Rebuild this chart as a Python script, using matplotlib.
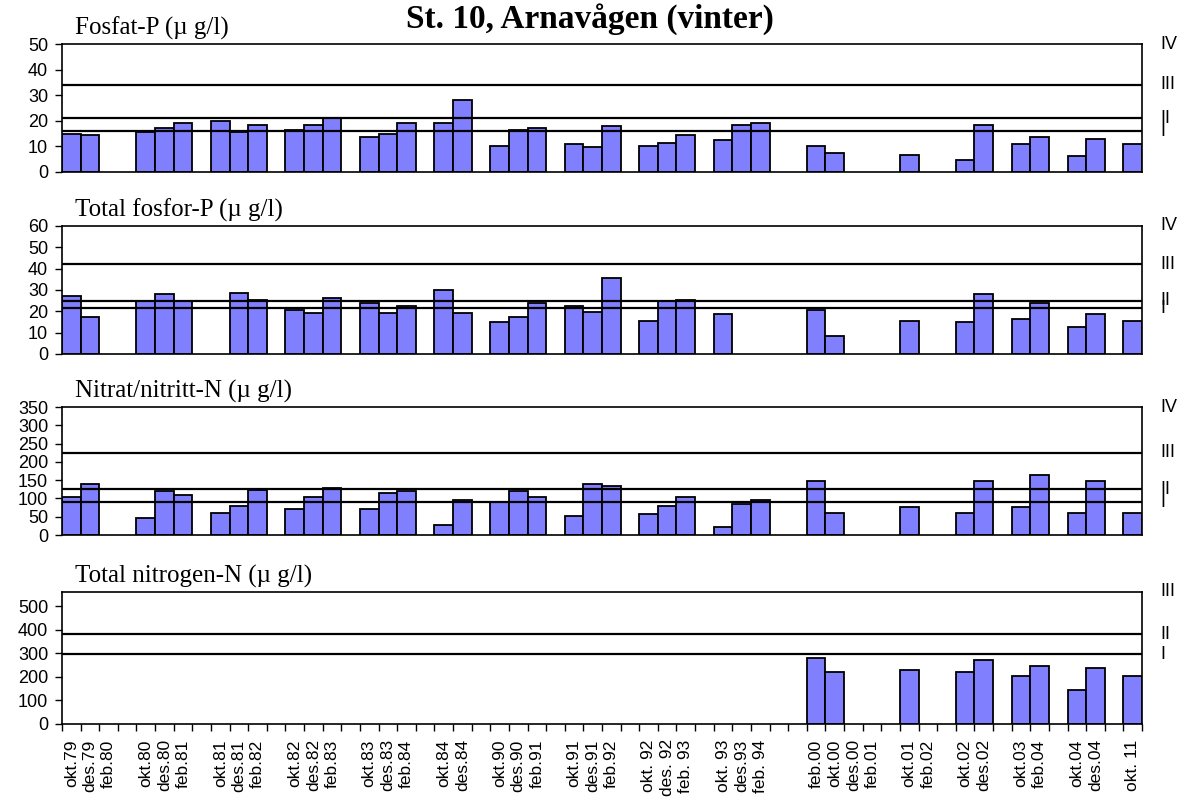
import numpy as np
import matplotlib
matplotlib.use("Agg")
import matplotlib.pyplot as plt
import matplotlib.transforms as mtransforms

# ---------------- data ----------------
categories = [
    "okt.79", "des.79", "feb.80", "",
    "okt.80", "des.80", "feb.81", "",
    "okt.81", "des.81", "feb.82", "",
    "okt.82", "des.82", "feb.83", "",
    "okt.83", "des.83", "feb.84", "",
    "okt.84", "des.84", "",
    "okt.90", "des.90", "feb.91", "",
    "okt.91", "des.91", "feb.92", "",
    "okt. 92", "des. 92", "feb. 93", "",
    "okt. 93", "des.93", "feb. 94", "", "",
    "feb.00", "okt.00", "des.00", "feb.01", "",
    "okt.01", "feb.02", "",
    "okt.02", "des.02", "",
    "okt.03", "feb.04", "",
    "okt.04", "des.04", "",
    "okt. 11",
]

N = None
fosfat_p = [
    15.0, 14.5, N, N,
    15.5, 17.2, 19.2, N,
    19.9, 15.5, 18.5, N,
    16.5, 18.3, 21.0, N,
    13.8, 15.0, 19.0, N,
    19.0, 28.0, N,
    10.2, 16.3, 17.0, N,
    11.0, 9.6, 17.8, N,
    10.2, 11.5, 14.3, N,
    12.4, 18.3, 19.2, N, N,
    10.2, 7.5, N, N, N,
    6.8, N, N,
    4.7, 18.3, N,
    11.0, 13.8, N,
    6.2, 13.0, N,
    11.0,
]

total_fosfor_p = [
    27.1, 17.4, N, N,
    24.8, 28.0, 24.8, N,
    N, 28.8, 25.5, N,
    20.4, 19.0, 26.3, N,
    23.8, 19.0, 22.3, N,
    29.8, 19.0, N,
    14.8, 17.4, 23.8, N,
    22.3, 19.8, 35.4, N,
    15.6, 24.8, 25.5, N,
    18.8, N, N, N, N,
    20.6, 8.4, N, N, N,
    15.6, N, N,
    14.8, 28.0, N,
    16.5, 23.7, N,
    12.5, 18.8, N,
    15.6,
]

nitrat_nitritt_n = [
    105, 139, N, N,
    47, 119, 110, N,
    61, 80, 124, N,
    71, 105, 129, N,
    71, 114, 119, N,
    27, 96, N,
    90, 119, 105, N,
    52, 139, 134, N,
    58, 80, 105, N,
    23, 86, 95, N, N,
    149, 61, N, N, N,
    77, N, N,
    61, 149, N,
    77, 163, N,
    61, 149, N,
    61,
]

total_nitrogen_n = [
    N, N, N, N,
    N, N, N, N,
    N, N, N, N,
    N, N, N, N,
    N, N, N, N,
    N, N, N,
    N, N, N, N,
    N, N, N, N,
    N, N, N, N,
    N, N, N, N, N,
    279, 220, N, N, N,
    230, N, N,
    220, 270, N,
    204, 245, N,
    144, 238, N,
    204,
]

panel_titles = ["Fosfat-P (\u00b5 g/l)", "Total fosfor-P (\u00b5 g/l)",
                "Nitrat/nitritt-N (\u00b5 g/l)", "Total nitrogen-N (\u00b5 g/l)"]
series = [fosfat_p, total_fosfor_p, nitrat_nitritt_n, total_nitrogen_n]
y_max = [50, 60, 350, 560]
y_ticks = [np.arange(0, 51, 10), np.arange(0, 61, 10),
           np.arange(0, 351, 50), np.arange(0, 501, 100)]
class_lines = [[16, 21, 34], [21.5, 25, 42], [90, 125, 225], [295, 380]]
class_labels = [
    [("IV", 50), ("III", 34), ("II", 21), ("I", 16)],
    [("IV", 60), ("III", 42), ("II", 25), ("I", 21.5)],
    [("IV", 350), ("III", 225), ("II", 125), ("I", 90)],
    [("III", 560), ("II", 380), ("I", 295)],
]
main_title = "St. 10, Arnavågen (vinter)"

# ---------------- layout ----------------
W, H = 1184, 809
fig = plt.figure(figsize=(W / 100, H / 100), dpi=100)
serif = "Liberation Serif"
sans = "Liberation Sans"

left_px, right_px = 62, 1142
panels_px = [(44, 172), (226, 354), (407, 535), (592, 724)]

x = np.arange(len(categories))
bar_color = "#8080FF"

for i, (top, bot) in enumerate(panels_px):
    ax = fig.add_axes([left_px / W, 1 - bot / H, (right_px - left_px) / W, (bot - top) / H])
    vals = np.array([np.nan if v is None else v for v in series[i]], dtype=float)
    mask = ~np.isnan(vals)
    ax.bar(x[mask], vals[mask], width=1.0, color=bar_color, edgecolor="black",
           linewidth=1.3, zorder=2)
    for yv in class_lines[i]:
        ax.axhline(yv, color="black", linewidth=1.6, zorder=3)
    ax.set_xlim(-0.5, len(categories) - 0.5)
    ax.set_ylim(0, y_max[i])
    ax.set_yticks(y_ticks[i])
    ax.set_yticklabels([str(t) for t in y_ticks[i]], fontfamily=sans, fontsize=13)
    ax.tick_params(axis="y", direction="out", length=5, width=1, pad=5)
    for s in ax.spines.values():
        s.set_color("black")
        s.set_linewidth(1.2)
        s.set_zorder(4)
    if i < 3:
        ax.set_xticks([])
    else:
        ax.set_xticks(np.arange(-0.5, len(categories), 1.0))
        ax.set_xticklabels([])
        ax.set_xticks(x, minor=True)
        ax.set_xticklabels(categories, minor=True, rotation=90, fontfamily=sans,
                           fontsize=12.5, va="top", ha="center")
        ax.tick_params(axis="x", which="major", direction="out", length=5, width=1)
        ax.tick_params(axis="x", which="minor", length=0, pad=11)
    ax.text(0.012, 1.0 + 4 / (bot - top), panel_titles[i], transform=ax.transAxes,
            ha="left", va="bottom", fontfamily=serif, fontsize=18)
    trans = mtransforms.blended_transform_factory(ax.transAxes, ax.transData)
    for lab, yv in class_labels[i]:
        ax.text((1160 - left_px) / (right_px - left_px), yv, lab, transform=trans,
                ha="left", va="center", fontfamily=sans, fontsize=13, clip_on=False)

fig.text(590 / W, 1 - 19 / H, main_title, ha="center", va="center",
         fontfamily=serif, fontweight="bold", fontsize=24)

fig.savefig("out.png", dpi=100)
